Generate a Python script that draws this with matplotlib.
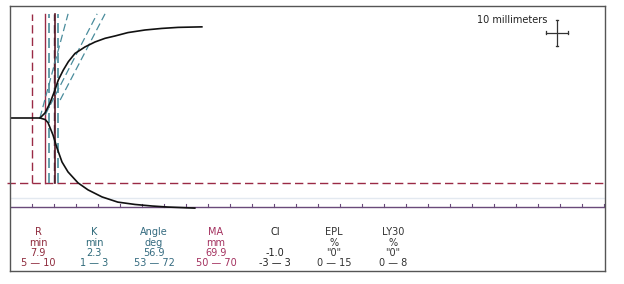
import matplotlib
matplotlib.use("Agg")
import matplotlib.pyplot as plt
import numpy as np

# ---- data (time in minutes, amplitude in mm from the baseline) ----
upper_t = [0, 6.82, 7.95, 9.09, 10.07, 10.98, 12.11, 13.25, 14.77, 17.05, 19.32, 21.6, 23.86, 26.8, 30.7, 34.5, 38.2, 43.6]
upper_a = [0, 0, 1.92, 5.76, 10.1, 14.6, 18.4, 21.6, 24.8, 27.3, 29.2, 30.6, 31.5, 32.8, 33.8, 34.4, 34.8, 35.0]
lower_t = [6.82, 8.0, 8.64, 9.77, 10.68, 11.82, 13.18, 15.45, 17.73, 20.9, 24.5, 28.4, 32.3, 35.9, 42.0]
lower_a = [0, -0.6, -1.8, -6.5, -11.5, -16.9, -20.7, -24.9, -27.6, -30.3, -32.3, -33.2, -33.8, -34.2, -34.6]

R_time = 7.9
K_time = 2.3
R_range = [5, 10]
K_range = [1, 3]
MA_low_half = -25.0      # MA lower limit 50 mm
chart_floor = -34.2
faint_line = -30.8
vline_top = 40.0

angle_lines = [([6.8, 13.2], [0, 40]), ([8.0, 19.8], [1.2, 40]), ([11.4, 21.6], [6.9, 40])]

labels = ["R", "K", "Angle", "MA", "CI", "EPL", "LY30"]
units = ["min", "min", "deg", "mm", "", "%", "%"]
values = ["7.9", "2.3", "56.9", "69.9", "-1.0", "\"0\"", "\"0\""]
ranges = ["5 \u2014 10", "1 \u2014 3", "53 \u2014 72", "50 \u2014 70", "-3 \u2014 3", "0 \u2014 15", "0 \u2014 8"]
col_x_px = [38, 94, 154, 216, 275, 334, 393]
col_colors = ["#8e2a3c", "#2f6a7a", "#356b80", "#a3305e", "#222222", "#333333", "#333333"]

RED = "#9a2a45"
TEAL = "#4a8c9c"
DARK = "#5a1a28"
PURPLE = "#6a4a7a"

W, H = 624, 284
fig = plt.figure(figsize=(W / 100, H / 100), dpi=100)
fig.patch.set_facecolor("white")

px_per_min = 4.4
px_per_mm = 2.604
left, right, top, bottom = 10, 605, 6, 271
base_y = 118
ax = fig.add_axes([left / W, (H - bottom) / H, (right - left) / W, (bottom - top) / H])
ax.set_xlim(0, (right - left) / px_per_min)
ax.set_ylim((base_y - bottom) / px_per_mm, (base_y - top) / px_per_mm)
ax.set_xticks([]); ax.set_yticks([])
for s in ax.spines.values():
    s.set_color("#555555"); s.set_linewidth(1.0)

xmax = (right - left) / px_per_min

# faint line and reference lines
ax.axhline(faint_line, color="#e3e9f0", lw=1.0)
ax.plot([-0.7, xmax], [MA_low_half, MA_low_half], color=RED, lw=1.0, ls=(0, (6, 3)), clip_on=False)
ax.axhline(chart_floor, color=PURPLE, lw=1.0)
for t in np.arange(5, xmax, 5):
    ax.plot([t, t], [chart_floor, chart_floor + 1.0], color=PURPLE, lw=0.8)

# vertical lines
vy = [MA_low_half, vline_top]
ax.plot([R_range[0]] * 2, vy, color=RED, lw=1.0, ls=(0, (6, 3)))
ax.plot([R_range[1]] * 2, vy, color="#3a3a4a", lw=1.0, ls=(0, (6, 3)))
ax.plot([R_time] * 2, vy, color=RED, lw=1.0)
ax.plot([R_time + K_range[0]] * 2, vy, color=TEAL, lw=1.2, ls=(0, (6, 3)))
ax.plot([R_time + K_range[1]] * 2, vy, color=TEAL, lw=1.2, ls=(0, (6, 3)))
ax.plot([R_time + K_time] * 2, vy, color=DARK, lw=1.2)

for xs, ys in angle_lines:
    ax.plot(xs, ys, color=TEAL, lw=0.9, ls=(0, (6, 3)))

# TEG curve
ax.plot(upper_t, upper_a, color="#111111", lw=1.2, solid_joinstyle="round")
ax.plot(lower_t, lower_a, color="#111111", lw=1.2, solid_joinstyle="round")

# scale cross
cx, cy = 124.3, 32.7
ax.plot([cx - 2.5, cx + 2.5], [cy, cy], color="#333333", lw=0.9)
ax.plot([cx, cx], [cy - 5, cy + 5], color="#333333", lw=0.9)
for ex in [cx - 2.5, cx + 2.5]:
    ax.plot([ex, ex], [cy - 0.6, cy + 0.6], color="#333333", lw=0.9)
for ey in [cy - 5, cy + 5]:
    ax.plot([cx - 0.3, cx + 0.3], [ey, ey], color="#333333", lw=0.9)
ax.text(547 / W, 1 - 20 / H, "10 millimeters", transform=fig.transFigure, ha="right", va="center",
        fontsize=7, color="#222222")

# table
row_y_px = [232, 242.5, 252.5, 262.5]
for i in range(len(labels)):
    x = col_x_px[i] / W
    c = col_colors[i]
    for j, txt in enumerate([labels[i], units[i], values[i], ranges[i]]):
        if txt:
            fig.text(x, 1 - row_y_px[j] / H, txt, ha="center", va="center", fontsize=7, color=c)

fig.savefig("out.png", dpi=100)
